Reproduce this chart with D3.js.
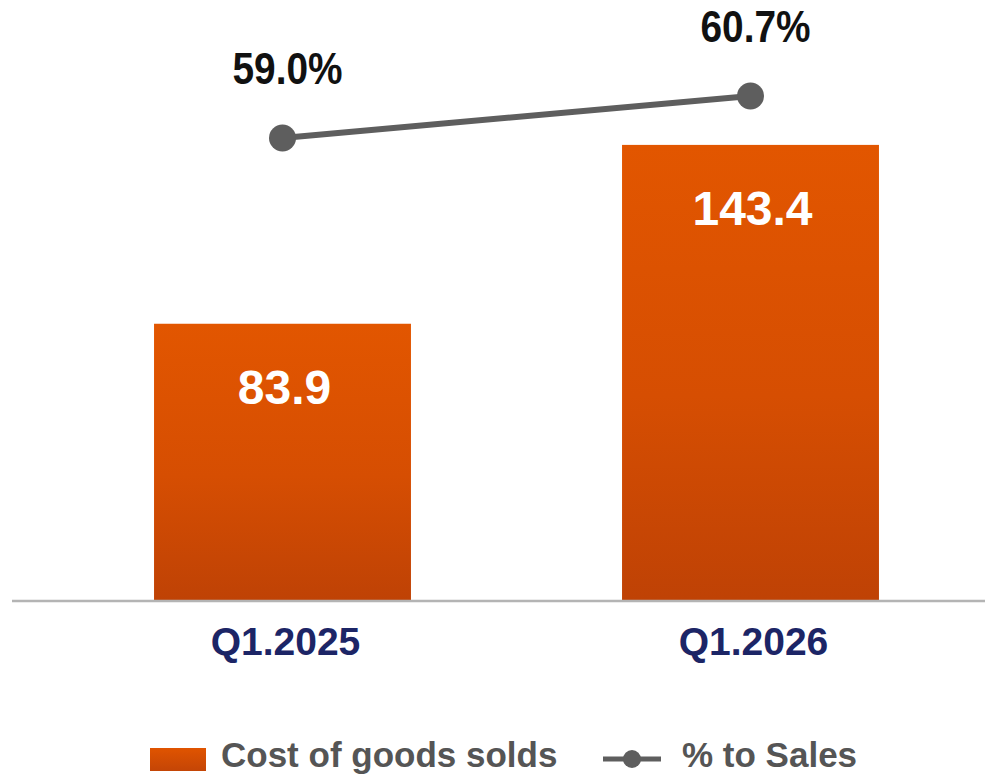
<!DOCTYPE html>
<html>
<head>
<meta charset="utf-8">
<script src="https://cdn.jsdelivr.net/npm/d3@7"></script>
<style>
  html, body { margin: 0; padding: 0; background: #ffffff; }
  svg { display: block; font-family: "Liberation Sans", Arial, sans-serif; }
</style>
</head>
<body>
<svg id="chart" width="985" height="781"></svg>
<script>
const categories = ["Q1.2025", "Q1.2026"];
const costValues = [83.9, 143.4];
const costLabels = ["83.9", "143.4"];
const pctValues = [59.0, 60.7];
const pctLabels = ["59.0%", "60.7%"];
const legendLabels = ["Cost of goods solds", "% to Sales"];

const svg = d3.select("#chart");
const W = 985, H = 781;
const baseY = 600;

const defs = svg.append("defs");
const grad = defs.append("linearGradient").attr("id", "barGrad")
  .attr("x1", 0).attr("y1", 0).attr("x2", 0).attr("y2", 1);
grad.append("stop").attr("offset", "0%").attr("stop-color", "#e25600");
grad.append("stop").attr("offset", "55%").attr("stop-color", "#d64e02");
grad.append("stop").attr("offset", "100%").attr("stop-color", "#bf4205");

const legGrad = defs.append("linearGradient").attr("id", "legGrad")
  .attr("x1", 0).attr("y1", 0).attr("x2", 0).attr("y2", 1);
legGrad.append("stop").attr("offset", "0%").attr("stop-color", "#e05400");
legGrad.append("stop").attr("offset", "100%").attr("stop-color", "#c44506");

const x = d3.scaleBand().domain(categories)
  .range([48.5, 984.5]).paddingInner(0.451).paddingOuter(0.2255);
const y = d3.scaleLinear().domain([-8, 160]).range([baseY, 95]);
const yPct = d3.scaleLinear().domain([59.0, 60.7]).range([138, 96]);

// bars
svg.append("g").selectAll("rect").data(categories).join("rect")
  .attr("x", d => x(d))
  .attr("y", (d, i) => y(costValues[i]))
  .attr("width", x.bandwidth())
  .attr("height", (d, i) => baseY - y(costValues[i]))
  .attr("fill", "url(#barGrad)");

// baseline
svg.append("line")
  .attr("x1", 12).attr("x2", W).attr("y1", baseY + 1).attr("y2", baseY + 1)
  .attr("stroke", "#b4b4b4").attr("stroke-width", 2.5);

// bar value labels
svg.append("g").selectAll("text").data(categories).join("text")
  .attr("x", d => x(d) + x.bandwidth() / 2 + 2)
  .attr("y", (d, i) => y(costValues[i]) + 80)
  .attr("text-anchor", "middle")
  .attr("fill", "#ffffff")
  .attr("font-weight", "bold")
  .attr("font-size", 48)
  .text((d, i) => costLabels[i]);

// category labels
svg.append("g").selectAll("text").data(categories).join("text")
  .attr("x", d => x(d) + x.bandwidth() / 2 + 3)
  .attr("y", 655)
  .attr("text-anchor", "middle")
  .attr("fill", "#1c2566")
  .attr("font-weight", "bold")
  .attr("font-size", 39)
  .text(d => d);

// line series
const cx = d => x(d) + x.bandwidth() / 2;
const line = d3.line().x(d => cx(d)).y((d, i) => yPct(pctValues[i]));
svg.append("path").datum(categories)
  .attr("d", line)
  .attr("fill", "none")
  .attr("stroke", "#5e5e5e")
  .attr("stroke-width", 6);
svg.append("g").selectAll("circle").data(categories).join("circle")
  .attr("cx", d => cx(d))
  .attr("cy", (d, i) => yPct(pctValues[i]))
  .attr("r", 13.5)
  .attr("fill", "#5e5e5e");
svg.append("g").selectAll("text").data(categories).join("text")
  .attr("x", d => cx(d) + 5)
  .attr("y", (d, i) => yPct(pctValues[i]) - 54)
  .attr("text-anchor", "middle")
  .attr("fill", "#111111")
  .attr("font-weight", "bold")
  .attr("font-size", 45)
  .attr("textLength", 110)
  .attr("lengthAdjust", "spacingAndGlyphs")
  .text((d, i) => pctLabels[i]);

// legend
const leg = svg.append("g");
leg.append("rect").attr("x", 150).attr("y", 748).attr("width", 56).attr("height", 23)
  .attr("fill", "url(#legGrad)");
leg.append("text").attr("x", 221).attr("y", 767)
  .attr("fill", "#555555").attr("font-weight", "bold").attr("font-size", 35)
  .text(legendLabels[0]);
leg.append("line").attr("x1", 603).attr("x2", 661).attr("y1", 759).attr("y2", 759)
  .attr("stroke", "#5e5e5e").attr("stroke-width", 5);
leg.append("circle").attr("cx", 632).attr("cy", 759).attr("r", 9).attr("fill", "#5e5e5e");
leg.append("text").attr("x", 682).attr("y", 767)
  .attr("fill", "#555555").attr("font-weight", "bold").attr("font-size", 35)
  .text(legendLabels[1]);
</script>
</body>
</html>
